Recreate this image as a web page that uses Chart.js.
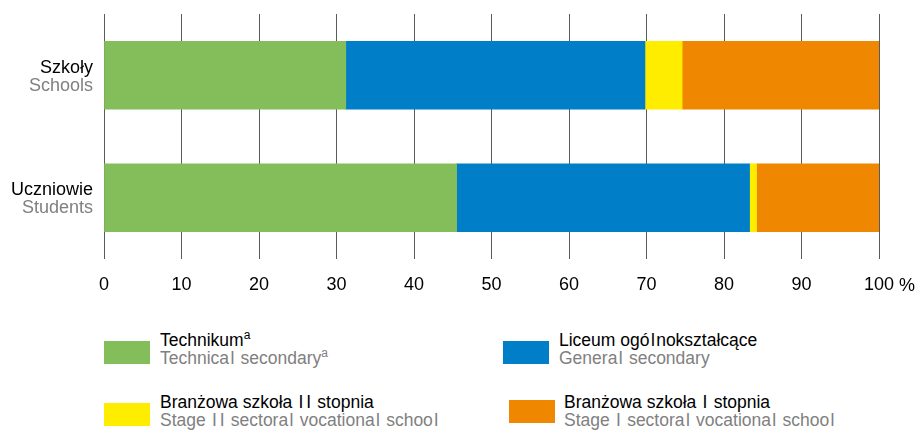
<!DOCTYPE html>
<html>
<head>
<meta charset="utf-8">
<script src="https://cdn.jsdelivr.net/npm/chart.js@4"></script>
<style>
  html, body { margin:0; padding:0; background:#fff; }
  body { width:919px; height:431px; position:relative; overflow:hidden; font-family:"Liberation Sans", Arial, sans-serif; }
  #wrap { position:absolute; left:0; top:0; width:919px; height:313px; }
  .sw { position:absolute; width:46px; height:23px; }
  .tx { position:absolute; font-size:17.5px; line-height:17.5px; white-space:nowrap; }
  .pl { color:#000; }
  .en { color:#808080; }
  .nl { padding:0 1.4px; }
  sup { font-size:12px; vertical-align:7px; line-height:0; }
</style>
</head>
<body>
<div id="wrap"><canvas id="c"></canvas></div>
<div id="legend"></div>
<script>
const categoriesPL = ['Szkoły', 'Uczniowie'];
const categoriesEN = ['Schools', 'Students'];
const seriesNamesPL = ['Technikum', 'Liceum ogólnokształcące', 'Branżowa szkoła II stopnia', 'Branżowa szkoła I stopnia'];
const seriesNamesEN = ['Technical secondary', 'General secondary', 'Stage II sectoral vocational school', 'Stage I sectoral vocational school'];
const seriesNotes = ['a', '', '', ''];
const technikum = [31.2, 45.5];
const liceum = [38.6, 37.8];
const branzowa2 = [4.8, 0.9];
const branzowa1 = [25.4, 15.8];
const xTicks = [0, 10, 20, 30, 40, 50, 60, 70, 80, 90, 100];
const colors = ['#84BE5A', '#007FC8', '#FFED00', '#F08700'];

const seriesValues = [technikum, liceum, branzowa2, branzowa1];
const FONT = '"Liberation Sans", Arial, sans-serif';
const FS = 18;

const yLabelsPlugin = {
  id: 'yLabels',
  afterDraw(chart) {
    const ctx = chart.ctx;
    const y = chart.scales.y;
    const x = chart.scales.x;
    ctx.save();
    ctx.font = FS + 'px ' + FONT;
    ctx.textAlign = 'right';
    ctx.textBaseline = 'middle';
    categoriesPL.forEach((c, i) => {
      const py = y.getPixelForValue(i);
      ctx.fillStyle = '#000';
      ctx.fillText(c, 93, py - 7.5);
      ctx.fillStyle = '#808080';
      ctx.fillText(categoriesEN[i], 93, py + 10.5);
    });
    const px = x.getPixelForValue(100);
    const hw = ctx.measureText('100').width / 2;
    ctx.textAlign = 'left';
    ctx.fillStyle = '#000';
    ctx.fillText(' %', px + hw, chart.chartArea.bottom + 16.5 + FS * 0.6);
    ctx.restore();
  }
};

new Chart(document.getElementById('c'), {
  type: 'bar',
  data: {
    labels: categoriesPL,
    datasets: seriesValues.map((v, i) => ({
      label: seriesNamesPL[i],
      data: v,
      backgroundColor: colors[i],
      borderWidth: 0,
      barThickness: 68
    }))
  },
  options: {
    indexAxis: 'y',
    responsive: true,
    maintainAspectRatio: false,
    animation: false,
    layout: { padding: { top: 14, right: 40, left: 0, bottom: 0 } },
    plugins: { legend: { display: false }, tooltip: { enabled: false } },
    scales: {
      x: {
        stacked: true,
        min: 0, max: 100,
        afterBuildTicks(scale) { scale.ticks = xTicks.map(v => ({ value: v })); },
        afterFit(scale) { scale.height = 54; },
        border: { display: false },
        grid: { color: '#5a5a5a', lineWidth: 1, tickLength: 0, drawTicks: false },
        ticks: {
          padding: 15.5,
          color: '#000',
          font: { family: FONT, size: FS },
          maxRotation: 0,
          autoSkip: false,
          callback: v => String(v)
        }
      },
      y: {
        stacked: true,
        border: { display: false },
        grid: { display: false },
        ticks: { display: false },
        afterFit(scale) { scale.width = 104; }
      }
    }
  },
  plugins: [yLabelsPlugin]
});

function fmt(s) {
  // mimic the reference's wider spacing around narrow l / I glyphs
  return s.replace(/[lI]/g, ch => '<span class="nl">' + ch + '</span>');
}
const legendPos = [
  { sx: 104, sy: 341, tx: 160, ty: 332 },
  { sx: 503, sy: 341, tx: 559, ty: 332 },
  { sx: 104, sy: 403, tx: 160, ty: 394 },
  { sx: 509, sy: 400, tx: 564, ty: 394 }
];
const lg = document.getElementById('legend');
seriesNamesPL.forEach((n, i) => {
  const p = legendPos[i];
  const sw = document.createElement('div');
  sw.className = 'sw';
  sw.style.left = p.sx + 'px'; sw.style.top = p.sy + 'px';
  sw.style.background = colors[i];
  lg.appendChild(sw);
  const t = document.createElement('div');
  t.className = 'tx';
  t.style.left = p.tx + 'px'; t.style.top = p.ty + 'px';
  const sup = seriesNotes[i] ? '<sup>' + seriesNotes[i] + '</sup>' : '';
  t.innerHTML = '<div class="pl">' + fmt(n) + sup + '</div><div class="en">' + fmt(seriesNamesEN[i]) + sup + '</div>';
  lg.appendChild(t);
});
</script>
</body>
</html>
